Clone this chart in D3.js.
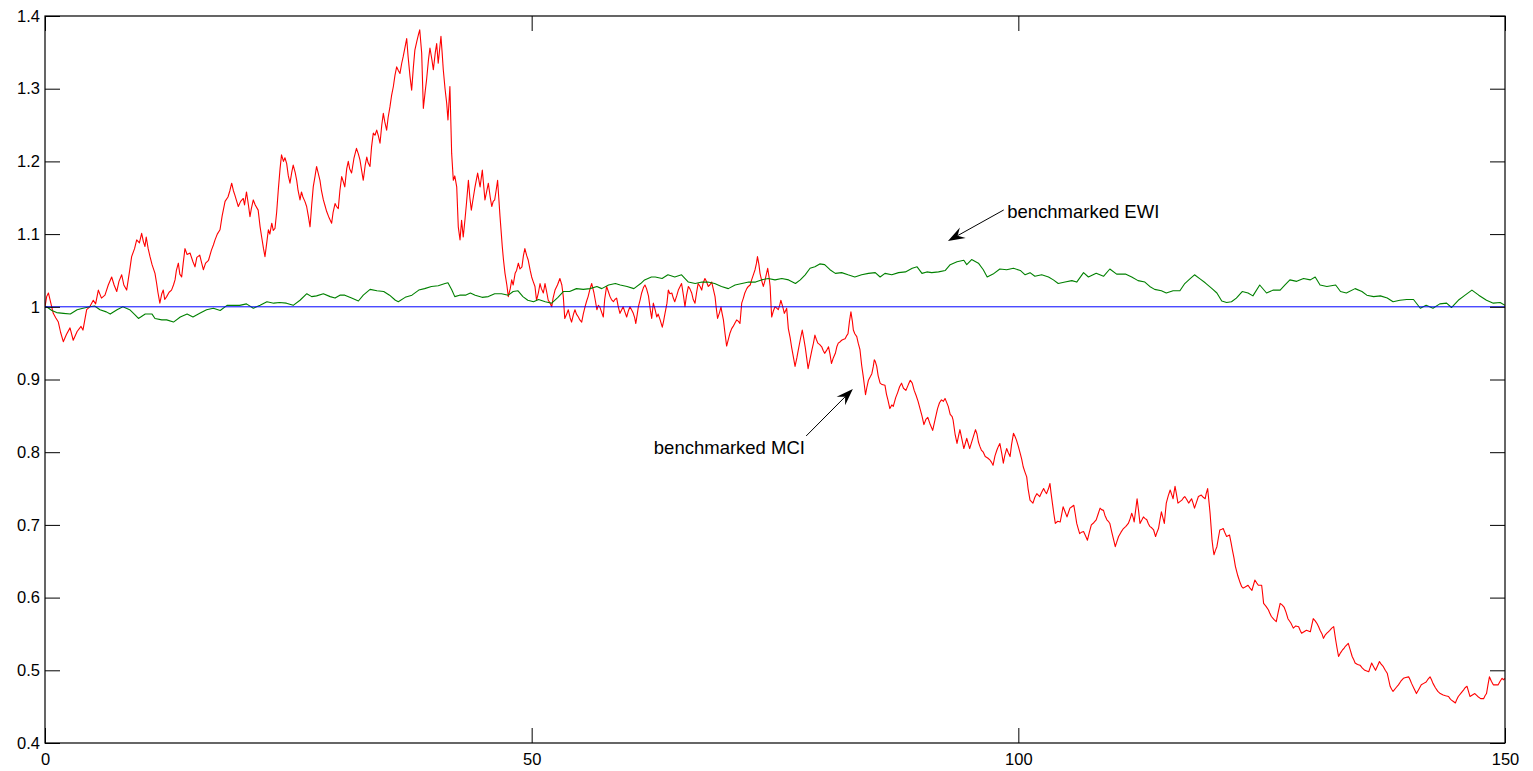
<!DOCTYPE html>
<html>
<head>
<meta charset="utf-8">
<script src="https://cdn.jsdelivr.net/npm/d3@7"></script>
<style>
  html, body { margin: 0; padding: 0; background: #fff; }
  svg { display: block; }
  text { font-family: "Liberation Sans", Arial, sans-serif; fill: #000; }
</style>
</head>
<body>
<svg id="chart" width="1533" height="771"></svg>
<script>
// Benchmarked market-capitalisation index (MCI): time in years, value
const mciT = [0,0.17,0.35,0.6,0.85,1.1,1.37,1.6,1.88,2.2,2.57,2.9,3.3,3.7,3.9,4.28,4.6,4.96,5.2,5.48,5.8,6.16,6.5,6.85,7.1,7.37,7.6,7.88,8.1,8.39,8.7,8.9,9.2,9.42,9.7,9.93,10.1,10.27,10.4,10.6,10.79,11.0,11.3,11.47,11.6,11.8,12.0,12.15,12.3,12.5,12.75,13.0,13.2,13.36,13.5,13.7,13.85,14.04,14.2,14.38,14.6,14.9,15.2,15.41,15.6,15.9,16.1,16.27,16.5,16.8,17.1,17.3,17.47,17.7,17.98,18.2,18.5,18.8,19.0,19.18,19.35,19.5,19.7,19.86,20.1,20.37,20.5,20.7,20.9,21.06,21.2,21.4,21.6,21.9,22.1,22.26,22.45,22.6,22.8,22.95,23.1,23.3,23.45,23.63,23.8,23.97,24.15,24.3,24.5,24.65,24.83,25.0,25.17,25.35,25.5,25.7,25.86,26.0,26.2,26.35,26.5,26.7,26.88,27.05,27.23,27.4,27.56,27.75,27.9,28.05,28.25,28.4,28.6,28.75,28.94,29.2,29.45,29.6,29.8,29.95,30.13,30.3,30.48,30.65,30.8,31.0,31.16,31.3,31.5,31.75,32.0,32.2,32.36,32.5,32.7,32.9,33.06,33.2,33.39,33.55,33.73,33.9,34.08,34.25,34.42,34.6,34.76,34.9,35.1,35.25,35.44,35.6,35.79,35.95,36.13,36.3,36.47,36.65,36.8,37.0,37.16,37.3,37.5,37.67,37.85,38.0,38.2,38.36,38.5,38.7,38.87,39.05,39.2,39.4,39.55,39.75,39.9,40.1,40.24,40.4,40.55,40.68,40.8,40.92,41.1,41.27,41.4,41.6,41.78,41.95,42.1,42.3,42.46,42.64,42.8,42.97,43.15,43.3,43.5,43.65,43.8,44.0,44.18,44.45,44.7,44.93,45.05,45.2,45.4,45.55,45.75,45.9,46.05,46.2,46.35,46.5,46.62,46.75,46.98,47.1,47.26,47.45,47.6,47.8,47.95,48.1,48.3,48.45,48.63,48.8,49.0,49.15,49.3,49.5,49.65,49.85,50.0,50.15,50.34,50.5,50.7,50.86,51.0,51.2,51.37,51.55,51.7,51.9,52.06,52.2,52.4,52.65,52.9,53.1,53.25,53.4,53.6,53.76,53.95,54.1,54.3,54.45,54.6,54.8,54.95,55.14,55.3,55.48,55.65,55.8,56.0,56.17,56.4,56.55,56.7,56.85,57.0,57.2,57.36,57.5,57.7,57.9,58.05,58.2,58.4,58.55,58.73,58.9,59.07,59.25,59.4,59.6,59.76,59.95,60.1,60.3,60.44,60.58,60.7,60.85,60.96,61.15,61.3,61.5,61.64,61.8,62.0,62.2,62.33,62.5,62.7,62.85,63.0,63.2,63.42,63.55,63.7,63.9,64.04,64.2,64.4,64.55,64.7,64.9,65.07,65.25,65.4,65.6,65.75,65.9,66.1,66.25,66.44,66.6,66.78,66.95,67.1,67.3,67.47,67.6,67.8,67.95,68.15,68.3,68.5,68.65,68.84,68.95,69.1,69.3,69.45,69.55,69.7,69.85,70.03,70.2,70.38,70.55,70.7,70.9,71.06,71.25,71.4,71.58,71.75,71.9,72.1,72.26,72.45,72.6,72.8,72.95,73.1,73.2,73.35,73.46,73.65,73.8,73.95,74.05,74.25,74.4,74.5,74.6,74.66,74.85,75.0,75.2,75.34,75.5,75.6,75.8,75.96,76.1,76.2,76.37,76.55,76.7,76.9,77.06,77.25,77.4,77.6,77.8,77.95,78.1,78.25,78.4,78.6,78.8,78.95,79.1,79.25,79.4,79.6,79.8,79.95,80.1,80.3,80.5,80.65,80.8,81.0,81.2,81.35,81.5,81.7,81.85,82.0,82.2,82.35,82.5,82.65,82.8,82.95,83.05,83.2,83.4,83.55,83.73,83.9,84.07,84.2,84.3,84.45,84.6,84.8,84.95,85.1,85.2,85.3,85.45,85.6,85.8,86.0,86.3,86.45,86.6,86.8,87.0,87.15,87.4,87.6,87.8,88.0,88.2,88.45,88.7,88.9,89.1,89.3,89.5,89.7,89.9,90.1,90.3,90.5,90.7,90.95,91.2,91.45,91.7,91.9,92.1,92.3,92.47,92.8,93.0,93.2,93.3,93.5,93.7,93.85,94.0,94.2,94.4,94.55,94.7,94.85,95.0,95.3,95.6,95.75,95.9,96.05,96.2,96.4,96.6,96.85,97.1,97.25,97.4,97.6,97.8,97.95,98.1,98.3,98.46,98.6,98.8,98.95,99.15,99.3,99.5,99.65,99.8,100.0,100.2,100.35,100.5,100.7,100.86,101.0,101.2,101.35,101.5,101.7,101.9,102.05,102.2,102.4,102.6,102.75,102.9,103.1,103.25,103.35,103.5,103.65,103.8,104.05,104.3,104.45,104.6,104.8,105.0,105.15,105.3,105.5,105.7,105.85,106.0,106.15,106.3,106.5,106.7,106.9,107.1,107.3,107.5,107.75,108.0,108.2,108.4,108.55,108.75,108.9,109.1,109.25,109.4,109.6,109.8,109.96,110.1,110.3,110.55,110.8,111.05,111.3,111.5,111.65,111.8,111.9,112.05,112.2,112.35,112.5,112.7,112.85,113.0,113.2,113.35,113.5,113.7,113.9,114.1,114.25,114.4,114.55,114.7,114.85,115.0,115.1,115.2,115.4,115.6,115.75,115.9,116.0,116.1,116.25,116.4,116.6,116.8,116.95,117.1,117.3,117.5,117.65,117.8,117.95,118.1,118.3,118.5,118.65,118.8,119.0,119.2,119.3,119.45,119.6,119.7,119.8,119.9,120.0,120.1,120.25,120.4,120.55,120.7,120.9,121.05,121.2,121.4,121.55,121.7,121.85,122.0,122.15,122.3,122.55,122.8,122.95,123.1,123.35,123.6,123.8,124.0,124.15,124.3,124.5,124.66,124.85,125.0,125.1,125.2,125.45,125.7,125.85,126.0,126.25,126.5,126.7,126.9,127.1,127.3,127.5,127.7,128.0,128.25,128.5,128.8,128.95,129.1,129.35,129.6,129.8,130.0,130.15,130.3,130.5,130.7,130.85,131.0,131.2,131.35,131.5,131.7,131.85,132.0,132.2,132.4,132.6,132.75,132.9,133.1,133.3,133.45,133.6,133.75,133.9,134.1,134.3,134.45,134.6,134.85,135.1,135.35,135.6,135.8,136.0,136.15,136.3,136.5,136.7,136.9,137.1,137.3,137.5,137.7,137.9,138.05,138.2,138.35,138.5,138.8,139.05,139.3,139.56,139.8,140.1,140.25,140.4,140.65,140.9,141.15,141.4,141.65,141.9,142.1,142.3,142.45,142.6,142.85,143.1,143.35,143.65,143.9,144.2,144.35,144.5,144.7,144.9,145.05,145.2,145.5,145.75,145.9,146.1,146.25,146.4,146.65,146.9,147.2,147.5,147.65,147.8,147.95,148.1,148.25,148.4,148.6,148.8,149.05,149.3,149.5,149.7,149.85,150.0];
const mciV = [1.000,1.014,1.019,1.005,0.991,0.985,0.979,0.965,0.952,0.962,0.971,0.954,0.966,0.973,0.968,0.996,1.000,1.009,1.004,1.023,1.012,1.016,1.030,1.041,1.030,1.021,1.035,1.044,1.030,1.023,1.050,1.069,1.080,1.092,1.088,1.101,1.090,1.083,1.096,1.080,1.069,1.058,1.046,1.032,1.020,1.005,1.018,1.023,1.010,1.014,1.020,1.023,1.030,1.037,1.050,1.060,1.045,1.041,1.060,1.080,1.072,1.074,1.062,1.055,1.068,1.071,1.060,1.051,1.060,1.064,1.078,1.085,1.092,1.100,1.106,1.125,1.145,1.151,1.160,1.170,1.160,1.154,1.145,1.138,1.145,1.149,1.140,1.158,1.140,1.124,1.135,1.147,1.140,1.133,1.110,1.096,1.080,1.069,1.090,1.106,1.100,1.115,1.105,1.108,1.130,1.161,1.190,1.209,1.200,1.205,1.197,1.180,1.170,1.185,1.195,1.185,1.174,1.160,1.147,1.158,1.151,1.145,1.138,1.125,1.110,1.140,1.165,1.180,1.193,1.185,1.174,1.160,1.147,1.140,1.131,1.122,1.115,1.130,1.142,1.138,1.135,1.160,1.179,1.172,1.165,1.190,1.200,1.190,1.184,1.205,1.218,1.210,1.202,1.190,1.174,1.195,1.206,1.198,1.193,1.220,1.239,1.236,1.243,1.235,1.225,1.250,1.266,1.255,1.243,1.260,1.275,1.290,1.303,1.318,1.330,1.325,1.321,1.335,1.344,1.358,1.369,1.345,1.317,1.298,1.330,1.353,1.365,1.374,1.381,1.349,1.273,1.295,1.312,1.340,1.356,1.340,1.326,1.350,1.362,1.335,1.355,1.372,1.350,1.326,1.300,1.280,1.257,1.303,1.211,1.174,1.180,1.165,1.110,1.092,1.119,1.096,1.120,1.142,1.174,1.150,1.133,1.150,1.165,1.184,1.165,1.188,1.170,1.147,1.160,1.170,1.150,1.138,1.145,1.147,1.160,1.174,1.150,1.124,1.083,1.065,1.046,1.030,1.014,1.025,1.037,1.030,1.046,1.050,1.060,1.052,1.055,1.070,1.080,1.070,1.064,1.050,1.041,1.035,1.028,1.009,1.020,1.032,1.025,1.019,1.032,1.020,1.009,1.005,1.000,1.012,1.023,1.030,1.039,1.030,1.014,0.984,0.990,0.996,0.985,0.979,0.990,0.996,0.990,0.986,0.982,0.979,0.990,1.000,1.008,1.014,1.025,1.032,1.019,1.008,0.996,1.002,1.000,0.992,0.986,1.010,1.028,1.020,1.014,1.010,1.007,1.010,1.012,1.000,0.991,0.996,1.000,0.992,0.986,0.995,1.000,0.995,0.991,0.985,0.977,0.990,1.000,1.010,1.019,1.027,1.030,1.025,1.015,0.995,0.984,1.005,0.995,0.986,0.990,0.982,0.972,0.980,0.991,1.005,1.023,1.018,1.019,1.012,1.007,1.015,1.023,1.028,1.032,1.015,1.000,1.015,1.028,1.025,1.019,1.010,1.005,1.020,1.032,1.028,1.023,1.032,1.039,1.035,1.028,1.030,1.034,1.025,1.014,1.000,0.984,0.992,1.000,0.992,0.982,0.965,0.946,0.955,0.964,0.970,0.973,0.978,0.982,0.980,0.977,1.005,1.012,1.019,1.025,1.028,1.030,1.037,1.045,1.051,1.060,1.069,1.058,1.046,1.035,1.028,1.035,1.041,1.053,1.040,1.028,1.000,0.986,0.995,1.000,0.998,0.996,1.003,1.009,1.000,0.991,0.995,0.998,0.970,0.958,0.945,0.930,0.918,0.930,0.941,0.955,0.968,0.957,0.945,0.930,0.915,0.928,0.941,0.950,0.961,0.955,0.950,0.948,0.945,0.940,0.936,0.940,0.945,0.935,0.922,0.930,0.936,0.945,0.950,0.952,0.954,0.955,0.956,0.960,0.963,0.980,0.993,0.980,0.968,0.963,0.959,0.950,0.941,0.920,0.904,0.890,0.879,0.890,0.899,0.904,0.908,0.918,0.927,0.925,0.918,0.905,0.895,0.893,0.892,0.880,0.872,0.860,0.865,0.863,0.875,0.882,0.890,0.895,0.888,0.885,0.893,0.899,0.895,0.885,0.878,0.870,0.860,0.850,0.838,0.845,0.848,0.838,0.830,0.845,0.860,0.868,0.872,0.870,0.874,0.863,0.852,0.849,0.844,0.825,0.812,0.822,0.831,0.818,0.805,0.812,0.819,0.812,0.805,0.818,0.831,0.825,0.814,0.808,0.803,0.800,0.794,0.792,0.789,0.786,0.782,0.795,0.803,0.808,0.812,0.798,0.785,0.795,0.805,0.800,0.794,0.810,0.826,0.822,0.817,0.808,0.798,0.790,0.780,0.772,0.766,0.750,0.734,0.732,0.730,0.738,0.743,0.741,0.739,0.745,0.750,0.746,0.743,0.750,0.757,0.745,0.730,0.715,0.702,0.705,0.704,0.714,0.725,0.718,0.711,0.717,0.723,0.725,0.727,0.715,0.702,0.695,0.688,0.690,0.691,0.685,0.679,0.690,0.700,0.703,0.707,0.715,0.723,0.721,0.720,0.713,0.707,0.705,0.702,0.690,0.679,0.670,0.676,0.684,0.690,0.695,0.698,0.702,0.709,0.716,0.710,0.704,0.720,0.736,0.720,0.702,0.707,0.711,0.709,0.707,0.702,0.698,0.696,0.693,0.684,0.690,0.695,0.707,0.718,0.710,0.702,0.716,0.730,0.740,0.748,0.742,0.736,0.745,0.753,0.742,0.730,0.732,0.734,0.737,0.739,0.735,0.730,0.733,0.736,0.730,0.723,0.731,0.739,0.740,0.741,0.738,0.736,0.743,0.750,0.730,0.716,0.698,0.679,0.668,0.659,0.665,0.670,0.682,0.693,0.694,0.695,0.690,0.684,0.685,0.686,0.676,0.665,0.655,0.643,0.630,0.620,0.615,0.613,0.615,0.617,0.613,0.610,0.617,0.624,0.620,0.617,0.617,0.617,0.605,0.592,0.588,0.583,0.578,0.574,0.570,0.567,0.580,0.592,0.590,0.587,0.580,0.571,0.565,0.558,0.561,0.560,0.555,0.551,0.553,0.555,0.554,0.553,0.562,0.571,0.568,0.564,0.560,0.555,0.550,0.544,0.548,0.551,0.553,0.555,0.558,0.560,0.542,0.530,0.519,0.524,0.528,0.530,0.533,0.535,0.537,0.528,0.519,0.515,0.510,0.508,0.507,0.503,0.500,0.499,0.498,0.504,0.510,0.505,0.500,0.506,0.512,0.508,0.505,0.500,0.496,0.487,0.478,0.474,0.471,0.476,0.480,0.485,0.489,0.490,0.491,0.487,0.482,0.475,0.468,0.474,0.480,0.482,0.484,0.488,0.491,0.487,0.482,0.476,0.471,0.468,0.466,0.465,0.464,0.461,0.459,0.457,0.455,0.460,0.464,0.469,0.473,0.476,0.478,0.471,0.464,0.466,0.468,0.464,0.461,0.461,0.461,0.465,0.468,0.480,0.491,0.485,0.480,0.480,0.480,0.485,0.489,0.487,0.489];

// Benchmarked equal-weighted index (EWI)
const ewiT = [0,0.17,0.7,1.2,1.9,2.6,3.3,3.9,4.6,5.1,5.65,6.3,6.7,7.4,8.0,8.7,9.25,9.6,10.3,11.0,11.3,12.0,12.5,13.2,13.9,14.6,15.2,15.9,16.6,17.3,18.0,18.7,19.35,20.0,20.7,21.4,22.1,22.8,23.5,24.1,24.8,25.5,26.2,26.9,27.4,27.9,28.6,29.3,29.8,30.3,30.8,31.5,32.2,32.7,33.4,34.1,34.8,35.4,36.0,36.3,37.0,37.7,38.4,39.0,39.7,40.4,41.1,41.4,41.8,42.1,42.6,43.2,43.7,44.2,44.9,45.55,46.2,46.9,47.6,48.1,48.6,49.1,49.6,50.2,50.7,51.4,52.06,52.7,53.25,53.9,54.6,55.3,56.0,56.7,57.2,57.9,58.6,59.1,59.8,60.5,61.2,61.6,62.3,62.7,63.4,64.0,64.7,65.4,66.1,66.8,67.5,68.1,68.8,69.5,70.2,70.9,71.6,72.3,73.0,73.6,74.3,75.0,75.7,76.4,77.1,77.6,78.1,78.6,79.1,79.6,80.1,80.65,81.2,81.85,82.5,83.2,83.9,84.6,85.3,85.8,86.3,87.0,87.7,88.4,89.1,89.6,90.1,90.6,91.1,91.8,92.5,93.0,93.7,94.4,94.7,95.2,95.9,96.4,96.8,97.4,98.1,98.8,99.5,100.2,100.7,101.2,101.7,102.4,103.1,103.6,104.1,104.8,105.5,106.0,106.7,107.2,108.0,108.75,109.4,110.1,111.0,111.65,112.3,113.0,113.5,114.0,114.7,115.2,115.9,116.6,117.1,117.6,118.1,118.7,119.2,119.9,120.4,120.9,121.4,121.9,122.4,123.0,123.6,124.1,124.8,125.5,126.2,126.9,127.4,127.9,128.6,129.3,130.0,130.5,131.0,131.7,132.6,133.1,133.7,134.6,135.3,135.8,136.5,137.2,137.9,138.5,139.2,139.9,140.6,141.3,141.9,142.6,143.3,144.0,144.5,145.2,145.9,146.6,147.3,148.1,148.8,149.5,150.0];
const ewiV = [1.000,1.000,0.995,0.992,0.991,0.990,0.996,0.998,1.000,1.001,0.996,0.993,0.990,0.996,1.000,0.996,0.989,0.984,0.990,0.990,0.984,0.982,0.982,0.979,0.986,0.990,0.986,0.991,0.996,0.998,0.995,1.002,1.002,1.002,1.004,0.998,1.002,1.007,1.005,1.006,1.005,1.002,1.009,1.018,1.014,1.015,1.018,1.014,1.012,1.016,1.016,1.012,1.008,1.016,1.024,1.022,1.021,1.016,1.009,1.007,1.013,1.016,1.023,1.025,1.028,1.029,1.032,1.033,1.023,1.014,1.016,1.016,1.019,1.016,1.013,1.014,1.018,1.018,1.016,1.021,1.022,1.014,1.009,1.007,1.010,1.007,1.005,1.013,1.021,1.021,1.025,1.024,1.025,1.028,1.025,1.030,1.032,1.030,1.028,1.025,1.032,1.037,1.041,1.041,1.039,1.044,1.041,1.044,1.034,1.032,1.034,1.034,1.032,1.028,1.025,1.030,1.032,1.034,1.034,1.037,1.039,1.037,1.039,1.037,1.032,1.037,1.044,1.053,1.055,1.059,1.058,1.051,1.046,1.047,1.044,1.041,1.044,1.046,1.047,1.041,1.046,1.044,1.047,1.048,1.053,1.055,1.046,1.048,1.047,1.048,1.050,1.058,1.062,1.064,1.058,1.065,1.060,1.051,1.041,1.045,1.052,1.051,1.053,1.050,1.044,1.047,1.042,1.044,1.041,1.037,1.032,1.034,1.036,1.034,1.047,1.041,1.046,1.042,1.052,1.045,1.045,1.041,1.036,1.034,1.028,1.024,1.022,1.019,1.022,1.022,1.032,1.038,1.044,1.038,1.033,1.025,1.019,1.008,1.006,1.007,1.012,1.021,1.019,1.015,1.030,1.019,1.023,1.023,1.030,1.037,1.035,1.039,1.037,1.041,1.030,1.028,1.030,1.021,1.019,1.025,1.021,1.016,1.014,1.015,1.012,1.007,1.009,1.010,1.010,0.998,1.002,0.998,1.004,1.005,0.999,1.009,1.016,1.023,1.016,1.009,1.005,1.006,1.002];

// Reference level and axis ticks
const baseline = 1;
const xTicks = [0, 50, 100, 150];
const yTicks = [0.4, 0.5, 0.6, 0.7, 0.8, 0.9, 1.0, 1.1, 1.2, 1.3, 1.4];

// Annotation labels with arrow tail/tip in data units
const notes = [
  { label: "benchmarked EWI", textT: 98.85, textV: 1.1215, anchor: "start", tail: [98.5, 1.1332], tip: [92.77, 1.0905] },
  { label: "benchmarked MCI", textT: 62.55, textV: 0.7975, anchor: "start", tail: [78.2, 0.8223], tip: [83.0, 0.8869] }
];

const W = 1533, H = 771;
const m = { left: 45, top: 16, right: 28, bottom: 28 };
const svg = d3.select("#chart");

const x = d3.scaleLinear().domain([0, 150]).range([m.left, W - m.right]);
const y = d3.scaleLinear().domain([0.4, 1.4]).range([H - m.bottom, m.top]);

const clipId = "plotArea";
svg.append("clipPath").attr("id", clipId)
  .append("rect")
  .attr("x", m.left).attr("y", m.top)
  .attr("width", x(150) - x(0)).attr("height", y(0.4) - y(1.4));

const line = d3.line().x(d => x(d[0])).y(d => y(d[1]));
const plot = svg.append("g").attr("clip-path", `url(#${clipId})`);

plot.append("path")
  .datum(d3.zip(mciT, mciV))
  .attr("d", line)
  .attr("fill", "none").attr("stroke", "#ff0000").attr("stroke-width", 1.1)
  .attr("stroke-linejoin", "round");

plot.append("path")
  .datum(d3.zip(ewiT, ewiV))
  .attr("d", line)
  .attr("fill", "none").attr("stroke", "#008000").attr("stroke-width", 1.1)
  .attr("stroke-linejoin", "round");

plot.append("line")
  .attr("x1", x(0)).attr("x2", x(150))
  .attr("y1", y(baseline)).attr("y2", y(baseline))
  .attr("stroke", "#0000ff").attr("stroke-width", 1);

// Axes: inward ticks on all four sides, labels on left and bottom
const fmt = d3.format("~g");
const tickLen = 15;

const axL = svg.append("g").attr("transform", `translate(${x(0)},0)`)
  .call(d3.axisLeft(y).tickValues(yTicks).tickSize(-tickLen).tickPadding(5).tickFormat(fmt));
const axR = svg.append("g").attr("transform", `translate(${x(150)},0)`)
  .call(d3.axisRight(y).tickValues(yTicks).tickSize(-tickLen).tickFormat(""));
const axB = svg.append("g").attr("transform", `translate(0,${y(0.4)})`)
  .call(d3.axisBottom(x).tickValues(xTicks).tickSize(-tickLen).tickPadding(10).tickFormat(fmt));
const axT = svg.append("g").attr("transform", `translate(0,${y(1.4)})`)
  .call(d3.axisTop(x).tickValues(xTicks).tickSize(-tickLen).tickFormat(""));

[axL, axR, axB, axT].forEach(g => {
  g.select(".domain").remove();
  g.selectAll(".tick line").attr("stroke", "#000").attr("stroke-width", 1);
  g.selectAll(".tick text")
    .style("font-family", '"Liberation Sans", Arial, sans-serif')
    .style("font-size", "16.5px").attr("fill", "#000");
});

svg.append("rect")
  .attr("x", x(0)).attr("y", y(1.4))
  .attr("width", x(150) - x(0)).attr("height", y(0.4) - y(1.4))
  .attr("fill", "none").attr("stroke", "#000").attr("stroke-width", 1.2);

// Annotations with notched arrowheads
const ann = svg.append("g");
notes.forEach(n => {
  ann.append("text")
    .attr("x", x(n.textT)).attr("y", y(n.textV))
    .attr("text-anchor", n.anchor)
    .style("font-size", "18.5px")
    .text(n.label);

  const x0 = x(n.tail[0]), y0 = y(n.tail[1]);
  const x1 = x(n.tip[0]), y1 = y(n.tip[1]);
  const ang = Math.atan2(y1 - y0, x1 - x0);
  const L = 17, Wd = 6, notch = 11;
  const ux = Math.cos(ang), uy = Math.sin(ang);
  const px = -uy, py = ux;
  const bx = x1 - ux * L, by = y1 - uy * L;
  const nx = x1 - ux * notch, ny = y1 - uy * notch;

  ann.append("line")
    .attr("x1", x0).attr("y1", y0).attr("x2", nx).attr("y2", ny)
    .attr("stroke", "#000").attr("stroke-width", 1);
  ann.append("path")
    .attr("d", `M${x1},${y1}L${bx + px * Wd},${by + py * Wd}L${nx},${ny}L${bx - px * Wd},${by - py * Wd}Z`)
    .attr("fill", "#000");
});
</script>
</body>
</html>
